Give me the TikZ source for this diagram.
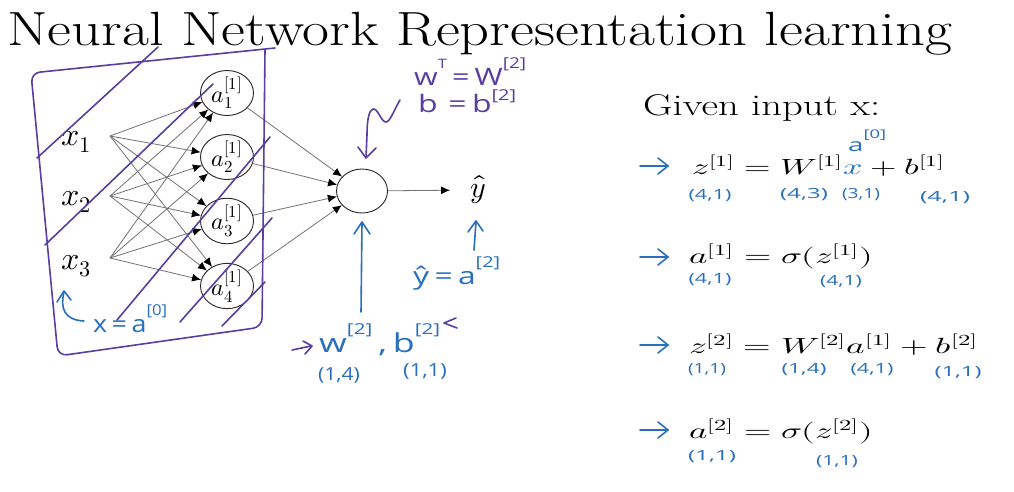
\documentclass[tikz,border=0pt]{standalone}
\usepackage{graphicx}
\usepackage{fontspec}
\usepackage{unicode-math}
\setmathfont{Latin Modern Math}
\newfontfamily\hand{Open Sans}
\usetikzlibrary{shapes.geometric,arrows.meta}
\definecolor{hpurple}{RGB}{88,62,160}
\definecolor{hblue}{RGB}{40,112,190}
\definecolor{edgegray}{RGB}{115,115,115}
\newcommand\hsup[2][15]{\raisebox{1.25ex}{\fontsize{#1}{#1}\selectfont #2}}
\newcommand\wfit[2]{\resizebox{#1pt}{\height}{#2}}
\newcommand\dimw[2]{\resizebox{#1pt}{\height}{(#2)}}
\begin{document}
\begin{tikzpicture}[x=1pt,y=-1pt,
 neuron/.style={draw=black!85, line width=0.9pt, ellipse, minimum width=53pt, minimum height=37pt, inner sep=0pt, font=\fontsize{24}{24}\selectfont},
 conn/.style={draw=edgegray, line width=0.8pt, -{Latex[length=9pt,width=8pt,color=black]}},
 pstroke/.style={draw=hpurple, line width=1.6pt, line cap=round, line join=round},
 bstroke/.style={draw=hblue, line width=1.6pt, line cap=round, line join=round},
 bnote/.style={text=hblue, font=\hand\fontsize{24}{24}\selectfont, inner sep=0pt, anchor=base west},
 pnote/.style={text=hpurple, font=\hand\fontsize{24}{24}\selectfont, inner sep=0pt, anchor=base west},
 dimn/.style={text=hblue, font=\hand\fontsize{14}{14}\selectfont, inner sep=0pt},
 eq/.style={font=\fontsize{22}{22}\selectfont, inner sep=0pt, anchor=base west},
 xin/.style={font=\fontsize{32}{32}\selectfont, inner sep=0pt, anchor=base west}
]
\useasboundingbox (0,0) rectangle (1014,491);
\fill[white] (0,0) rectangle (1014,491);

% title
\node[anchor=base west, inner sep=0pt, font=\fontsize{48}{48}\selectfont] (title) at (7,45) {\wfit{945}{Neural Network Representation learning}};

% inputs
\node[xin] (x1) at (61,145) {$x_1$};
\node[xin] (x2) at (61,205) {$x_2$};
\node[xin] (x3) at (61,269) {$x_3$};
\coordinate (s1) at (110,136);
\coordinate (s2) at (110,196);
\coordinate (s3) at (110,258);

% hidden layer
\node[neuron] (a1) at (227,93)  {$a^{[1]}_1$};
\node[neuron] (a2) at (227,157) {$a^{[1]}_2$};
\node[neuron] (a3) at (227,221) {$a^{[1]}_3$};
\node[neuron] (a4) at (227,286) {$a^{[1]}_4$};

% output
\node[neuron, minimum width=51pt, minimum height=44pt] (out) at (362,191) {};
\node[inner sep=0pt, font=\fontsize{30}{30}\selectfont] (yhat) at (478,190) {$\hat{y}$};

\foreach \s in {s1,s2,s3}{
  \foreach \a in {a1,a2,a3,a4}{
    \draw[conn] (\s) -- (\a);
  }
}
\foreach \a in {a1,a2,a3,a4}{
  \draw[conn] (\a) -- (out);
}
\draw[conn, shorten >=20pt] (out) -- (yhat);

% purple box and strokes
\draw[pstroke, rounded corners=9pt] (275,48) -- (31,73) -- (58,356) -- (262,327) -- (265,50);
\draw[pstroke] (37,158) -- (158,47);
\draw[pstroke] (45,245) -- (213,84);
\draw[pstroke] (117,320) -- (270,137);
\draw[pstroke] (180,322) -- (272,218);
\draw[pstroke] (222,326) -- (265,282);

% x = a[0]
\draw[bstroke] (64,292) .. controls (60,308) and (64,320) .. (84,321);
\draw[bstroke] (57,302) -- (64,291) -- (71,300);
\node[bnote] (xa0) at (93,332) {\wfit{74}{x\,=\,a\hsup{[0]}}};

% w^T = W[2], b = b[2]
\node[pnote] (wt) at (414,85) {\wfit{112}{w\hsup[13]{T}\,=\,W\hsup{[2]}}};
\node[pnote] (bb) at (418,112) {\wfit{98}{b\,\,=\,b\raisebox{0.9ex}{\fontsize{15}{15}\selectfont [2]}}};
\draw[pstroke] (400,100) .. controls (394,110) and (390,122) .. (386,122)
   .. controls (381,122) and (378,108) .. (373,109)
   .. controls (369,110) and (367,120) .. (367,135) -- (366,157);
\draw[pstroke] (358,147) -- (366,158) -- (376,148);

% arrow up to output neuron
\draw[bstroke] (361,312) -- (362,223);
\draw[bstroke] (354,234) -- (362,222) -- (370,234);

% yhat = a[2]
\draw[bstroke] (474,250) -- (476,222);
\draw[bstroke] (468,232) -- (476,221) -- (483,231);
\node[bnote] (ya2) at (413,284) {\wfit{87}{\^{y}\,=\,a\hsup{[2]}}};

% W[2], b[2]
\node[bnote, font=\hand\fontsize{26}{26}\selectfont] (wb2) at (319,352) {\wfit{121}{w\hsup{[2]}\,,\,b\hsup{[2]}}};
\draw[pstroke] (292,350) -- (311,346);
\draw[pstroke] (303,341) -- (312,346) -- (305,354);
\draw[pstroke] (456,318) -- (444,323) -- (457,328);
\node[dimn, font=\hand\fontsize{18}{18}\selectfont] (d14) at (339,375) {\dimw{42}{1,4}};
\node[dimn, font=\hand\fontsize{18}{18}\selectfont] (d11) at (425,371) {\dimw{44}{1,1}};

% right side
\node[anchor=base west, inner sep=0pt, font=\fontsize{30}{30}\selectfont] (given) at (643,115) {\wfit{237}{Given input x:}};

\foreach \yy/\nm in {166/r1,257/r2,345/r3,430/r4}{
  \coordinate (\nm a) at (640,\yy);
  \coordinate (\nm b) at (668,\yy);
  \draw[bstroke] (\nm a) -- (\nm b);
  \draw[bstroke] ([shift={(-10,-8)}]\nm b) -- (\nm b) -- ([shift={(-10,8)}]\nm b);
}

\node[eq] (eq1) at (692,174) {\wfit{253}{$z^{[1]} = W^{[1]}{\color{hblue}x} + b^{[1]}$}};
\node[text=hblue, font=\hand\fontsize{18}{18}\selectfont, inner sep=0pt, anchor=base west] (a0) at (848,151) {\wfit{38}{a\hsup[12]{[0]}}};
\node[eq] (eq2) at (689,263) {\wfit{184}{$a^{[1]} = \sigma(z^{[1]})$}};
\node[eq] (eq3) at (689,353) {\wfit{289}{$z^{[2]} = W^{[2]}a^{[1]} + b^{[2]}$}};
\node[eq] (eq4) at (689,438) {\wfit{184}{$a^{[2]} = \sigma(z^{[2]})$}};

\node[dimn] (e1a) at (710,196) {\dimw{43}{4,1}};
\node[dimn] (e1b) at (804,195) {\dimw{48}{4,3}};
\node[dimn] (e1c) at (861,195) {\dimw{38}{3,1}};
\node[dimn] (e1d) at (945,198) {\dimw{50}{4,1}};
\node[dimn] (e2a) at (710,280) {\dimw{43}{4,1}};
\node[dimn] (e2b) at (841,282) {\dimw{42}{4,1}};
\node[dimn] (e3a) at (707,370) {\dimw{38}{1,1}};
\node[dimn] (e3b) at (804,370) {\dimw{45}{1,4}};
\node[dimn] (e3c) at (872,370) {\dimw{43}{4,1}};
\node[dimn] (e3d) at (958,373) {\dimw{47}{1,1}};
\node[dimn] (e4a) at (712,457) {\dimw{48}{1,1}};
\node[dimn] (e4b) at (837,462) {\dimw{42}{1,1}};
\end{tikzpicture}
\end{document}
